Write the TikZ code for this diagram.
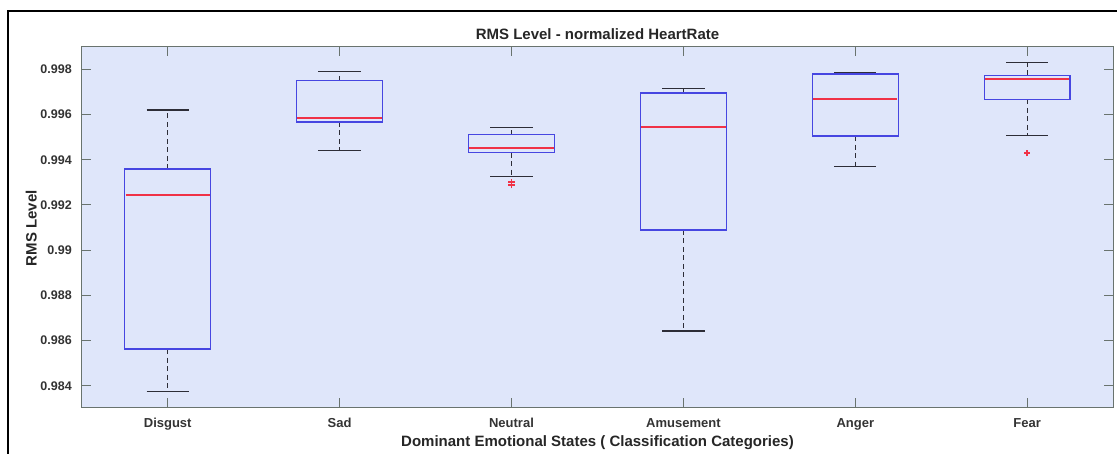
\documentclass[tikz,border=0pt]{standalone}
\usepackage{fontspec}
\setmainfont{Liberation Sans}
\definecolor{axbg}{RGB}{223,230,250}
\definecolor{axgray}{RGB}{105,115,110}
\definecolor{boxblue}{RGB}{70,70,225}
\definecolor{medred}{RGB}{240,50,70}
\definecolor{whiskgray}{RGB}{45,45,55}
\begin{document}
\begin{tikzpicture}[x=1pt,y=1pt,
  axisline/.style={draw=axgray,line width=1pt},
  boxline/.style={draw=boxblue,line width=1.4pt},
  medline/.style={draw=medred,line width=1.8pt},
  whisk/.style={draw=whiskgray,line width=1.1pt,dash pattern=on 5pt off 3.5pt},
  capline/.style={draw=whiskgray,line width=1.2pt},
  outl/.style={draw=medred,line width=1.5pt},
  ticklab/.style={font=\bfseries\fontsize{12.5}{14}\selectfont,text=black!80},
  catlab/.style={font=\bfseries\fontsize{13}{15}\selectfont,text=black!80,anchor=base},
  axlab/.style={font=\bfseries\fontsize{15}{17}\selectfont,text=black!85}]
\useasboundingbox (0,0) rectangle (1117,453);
% outer frame
\draw[line width=2pt,black] (8.2,-2) -- (8.2,441.7) -- (1120,441.7);
% title
\node[axlab,anchor=base] (title) at (597.5,413) {RMS Level - normalized HeartRate};
% y label
\node[axlab,anchor=base,rotate=90] (ylab) at (36.5,224.7) {RMS Level};
% x label
\node[axlab,anchor=base] (xlab) at (597.5,6.5) {Dominant Emotional States ( Classification Categories)};
% data area: x = category index, y = (value - 0.98) * 1000
\begin{scope}[shift={(-4.2,-23.1)},x=171.9pt,y=22.6pt]
  \fill[axbg] (0.5,3.03) rectangle (6.5,19.03);
  % ticks
  \foreach \c/\lab in {1/Disgust,2/Sad,3/Neutral,4/Amusement,5/Anger,6/Fear}{
    \draw[axisline] (\c,3.03) -- ++(0,10pt);
    \draw[axisline] (\c,19.03) -- ++(0,-10pt);
    \path (\c,3.03) ++(0,-19.8pt) node[catlab] {\lab};
  }
  \foreach \v/\lab in {4/0.984,6/0.986,8/0.988,10/0.99,12/0.992,14/0.994,16/0.996,18/0.998}{
    \draw[axisline] (0.5,\v) -- ++(9pt,0);
    \draw[axisline] (6.5,\v) -- ++(-9pt,0);
    \node[ticklab,anchor=east] at ([xshift=-6.5pt]0.5,\v) {\lab};
  }
  % boxes: category / lower whisker / q1 / median / q3 / upper whisker
  \foreach \c/\lw/\qa/\md/\qb/\uw in {
      1/3.74/5.62/12.43/13.58/16.20,
      2/14.39/15.67/15.85/17.50/17.92,
      3/13.25/14.31/14.52/15.11/15.43,
      4/6.42/10.89/15.45/16.95/17.14,
      5/13.69/15.04/16.69/17.79/17.84,
      6/15.06/16.67/17.56/17.73/18.31}{
    \draw[whisk] (\c,\qb) -- (\c,\uw);
    \draw[whisk] (\c,\qa) -- (\c,\lw);
    \draw[capline] (\c-0.123,\uw) -- (\c+0.123,\uw);
    \draw[capline] (\c-0.123,\lw) -- (\c+0.123,\lw);
    \draw[boxline] (\c-0.25,\qa) rectangle (\c+0.25,\qb);
    \draw[medline] (\c-0.245,\md) -- (\c+0.245,\md);
  }
  % outliers
  \foreach \c/\v in {3/13.01,3/12.87,6/14.29}{
    \draw[outl] (\c,\v) ++(-3.2pt,0) -- ++(6.4pt,0);
    \draw[outl] (\c,\v) ++(0,-3.2pt) -- ++(0,6.4pt);
  }
  \draw[axisline] (0.5,3.03) rectangle (6.5,19.03);
\end{scope}
\end{tikzpicture}
\end{document}
